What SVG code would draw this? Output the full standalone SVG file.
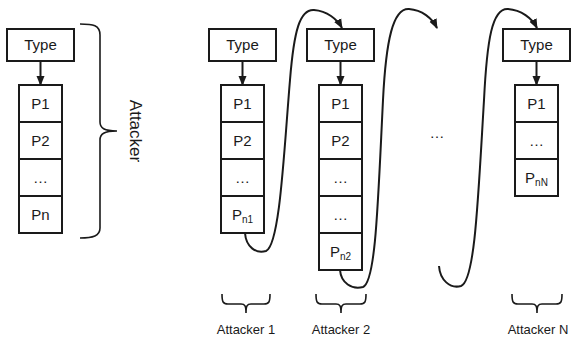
<svg xmlns="http://www.w3.org/2000/svg" width="572" height="339" viewBox="0 0 572 339">
  <style>
    .box { fill: #ffffff; stroke: #1a1a1a; stroke-width: 2; }
    .lbl { font-family: "Liberation Sans", Arial, sans-serif; font-size: 15px; fill: #1a1a1a; text-anchor: middle; }
    .sub { font-size: 10px; }
    .cap { font-family: "Liberation Sans", Arial, sans-serif; font-size: 13px; fill: #1a1a1a; text-anchor: middle; }
    .brace { fill: none; stroke: #1a1a1a; stroke-width: 1.6; }
    .link { fill: none; stroke: #1a1a1a; stroke-width: 2; }
  </style>
  <defs>
    <marker id="head" markerUnits="userSpaceOnUse" markerWidth="10" markerHeight="10" viewBox="0 0 10 10" refX="9" refY="5" orient="auto">
      <path d="M0,1 L10,5 L0,9 Z" fill="#1a1a1a"/>
    </marker>
  </defs>
  <rect width="572" height="339" fill="#ffffff"/>

  <!-- generic attacker on the left -->
  <g id="attacker-generic">
    <rect class="box" x="7" y="29" width="67" height="32"/>
    <text class="lbl" x="40.5" y="50">Type</text>
    <rect class="box" x="19" y="85" width="43" height="37"/>
    <text class="lbl" x="40.5" y="109">P1</text>
    <rect class="box" x="19" y="122" width="43" height="37"/>
    <text class="lbl" x="40.5" y="146">P2</text>
    <rect class="box" x="19" y="159" width="43" height="37"/>
    <text class="lbl" x="40.5" y="183">…</text>
    <rect class="box" x="19" y="196" width="43" height="37"/>
    <text class="lbl" x="40.5" y="220">Pn</text>
  </g>
  <g id="attacker-brace">
    <path class="brace" d="M80,24 C93,24 100,25 100,35 L100,122 C100,128 104,131 117,131 C104,131 100,134 100,140 L100,228 C100,236 93,238 80,238"/>
    <text class="lbl" style="font-size:17px" transform="translate(130,131) rotate(90)">Attacker</text>
  </g>

  <!-- attacker 1 -->
  <g id="attacker-1">
    <rect class="box" x="209" y="29" width="67" height="32"/>
    <text class="lbl" x="242.5" y="50">Type</text>
    <rect class="box" x="221" y="85" width="43" height="37"/>
    <text class="lbl" x="242.5" y="109">P1</text>
    <rect class="box" x="221" y="122" width="43" height="37"/>
    <text class="lbl" x="242.5" y="146">P2</text>
    <rect class="box" x="221" y="159" width="43" height="37"/>
    <text class="lbl" x="242.5" y="183">…</text>
    <rect class="box" x="221" y="196" width="43" height="37"/>
    <text class="lbl" x="242.5" y="220">P<tspan class="sub" dy="3">n1</tspan></text>
  </g>

  <!-- attacker 2 -->
  <g id="attacker-2">
    <rect class="box" x="307" y="29" width="67" height="32"/>
    <text class="lbl" x="340.5" y="50">Type</text>
    <rect class="box" x="319" y="85" width="43" height="37"/>
    <text class="lbl" x="340.5" y="109">P1</text>
    <rect class="box" x="319" y="122" width="43" height="37"/>
    <text class="lbl" x="340.5" y="146">P2</text>
    <rect class="box" x="319" y="159" width="43" height="37"/>
    <text class="lbl" x="340.5" y="183">…</text>
    <rect class="box" x="319" y="196" width="43" height="37"/>
    <text class="lbl" x="340.5" y="220">…</text>
    <rect class="box" x="319" y="233" width="43" height="37"/>
    <text class="lbl" x="340.5" y="257">P<tspan class="sub" dy="3">n2</tspan></text>
  </g>

  <!-- attacker N -->
  <g id="attacker-n">
    <rect class="box" x="503" y="29" width="67" height="32"/>
    <text class="lbl" x="536.5" y="50">Type</text>
    <rect class="box" x="515" y="85" width="43" height="37"/>
    <text class="lbl" x="536.5" y="109">P1</text>
    <rect class="box" x="515" y="122" width="43" height="37"/>
    <text class="lbl" x="536.5" y="146">…</text>
    <rect class="box" x="515" y="159" width="43" height="37"/>
    <text class="lbl" x="536.5" y="183">P<tspan class="sub" dy="3">nN</tspan></text>
  </g>

  <g id="gap-dots">
    <text class="lbl" x="437" y="138">…</text>
  </g>

  <!-- bottom braces with captions -->
  <g id="caption-1">
    <path class="brace" d="M222,294 C222,302 223,304 228,304 L241,304 C245,304 246,306 246,313 C246,306 247,304 251,304 L264,304 C269,304 270,302 270,294"/>
    <text class="cap" x="246" y="334">Attacker 1</text>
  </g>
  <g id="caption-2">
    <path class="brace" d="M316,294 C316,302 317,304 322,304 L336,304 C340,304 341,306 341,313 C341,306 342,304 346,304 L360,304 C365,304 366,302 366,294"/>
    <text class="cap" x="341" y="334">Attacker 2</text>
  </g>
  <g id="caption-n">
    <path class="brace" d="M512,294 C512,302 513,304 518,304 L532,304 C536,304 537,306 537,313 C537,306 538,304 542,304 L556,304 C561,304 562,302 562,294"/>
    <text class="cap" x="538" y="334">Attacker N</text>
  </g>

  <!-- connectors -->
  <g id="connectors">
    <line class="link" x1="40.5" y1="61" x2="40.5" y2="85" marker-end="url(#head)"/>
    <line class="link" x1="242.5" y1="61" x2="242.5" y2="85" marker-end="url(#head)"/>
    <line class="link" x1="340.5" y1="61" x2="340.5" y2="85" marker-end="url(#head)"/>
    <line class="link" x1="536.5" y1="61" x2="536.5" y2="85" marker-end="url(#head)"/>
    <path class="link" d="M245,233 C246,247 256,254 266,251 C280,245 284,150 290,80 C294,30 300,9 314,10 C327,11 337,19 342,28" marker-end="url(#head)"/>
    <path class="link" d="M340,270 C341,283 352,290 363,287 C376,282 378,200 383,100 C386,40 393,8 409,9 C422,10 432,18 437,28" marker-end="url(#head)"/>
    <path class="link" d="M439,266 C440,280 450,289 461,286 C475,281 478,200 484,100 C487,40 492,8 508,9 C521,10 532,18 537,28" marker-end="url(#head)"/>
  </g>
</svg>
